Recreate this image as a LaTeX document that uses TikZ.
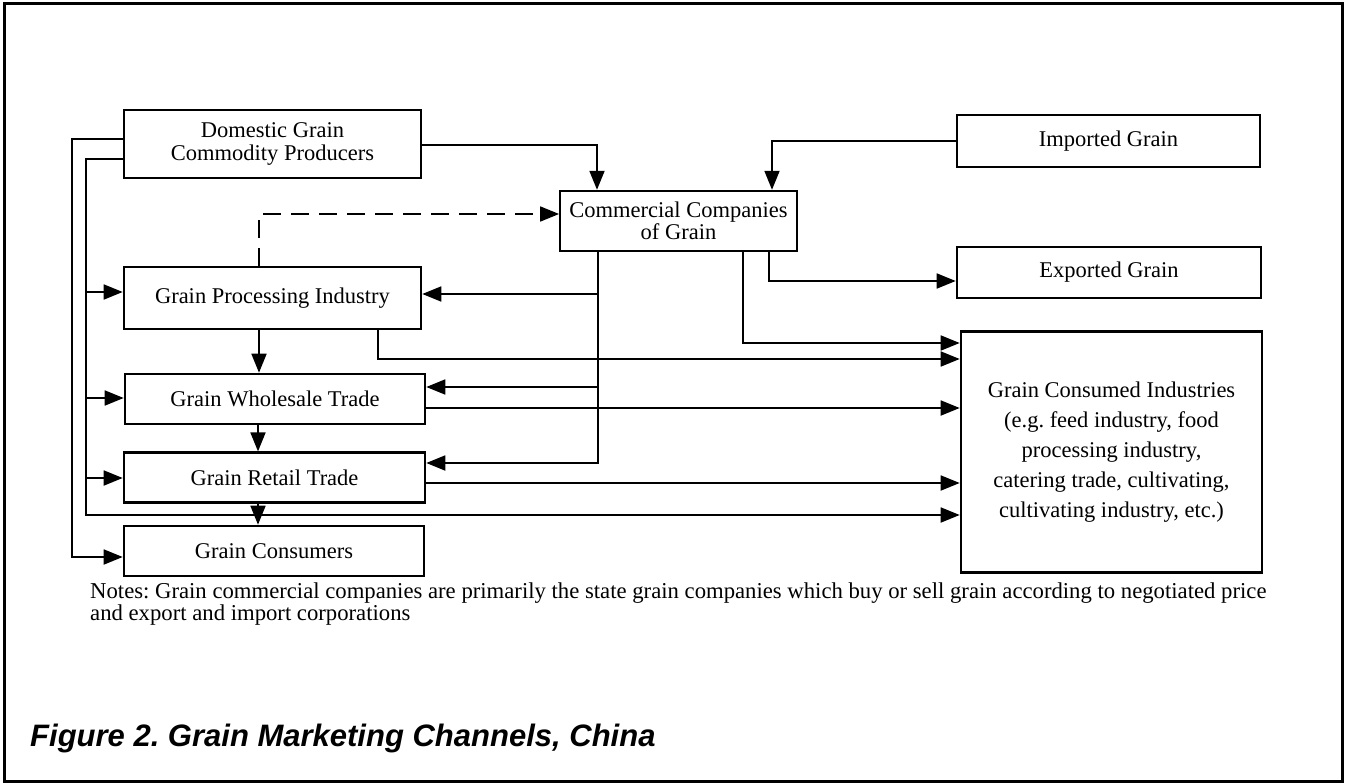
\documentclass[tikz,border=0pt]{standalone}
\usepackage{fontspec}
\setmainfont{Liberation Serif}
\newfontfamily\titlefont{Liberation Sans}
\usetikzlibrary{arrows.meta}
\frenchspacing
\begin{document}
\begin{tikzpicture}[x=1pt,y=-1pt,
  box/.style={draw, line width=2.6pt, inner sep=0pt, align=center,
    font=\fontsize{22.5}{22.7}\selectfont},
  thinbox/.style={box, line width=1.8pt},
  conn/.style={line width=1.8pt, -{Triangle[length=19pt,width=15pt]}},
  plain/.style={line width=1.8pt}
]
\useasboundingbox (0,0) rectangle (1345,784);
\draw[line width=3pt] (4,4) rectangle (1342,781);

% nodes
\node[box, minimum width=297pt, minimum height=68pt] (dom) at (272.5,144) {Domestic Grain\\Commodity Producers};
\node[box, minimum width=303pt, minimum height=52pt] (imp) at (1108.5,141) {Imported Grain};
\node[thinbox, minimum width=237pt, minimum height=60pt] (comm) at (678.5,220.7) {Commercial Companies\\of Grain};
\node[box, minimum width=304pt, minimum height=51pt] (exp) at (1109,272.5) {Exported Grain};
\node[box, minimum width=297pt, minimum height=62pt] (proc) at (272.5,298) {Grain Processing Industry};
\node[box, minimum width=300pt, minimum height=50pt] (whole) at (275,399) {Grain Wholesale Trade};
\node[box, minimum width=301pt, minimum height=50pt] (retail) at (274.5,477.7) {Grain Retail Trade};
\node[box, minimum width=300pt, minimum height=50pt] (cons) at (274,551) {Grain Consumers};
\node[box, minimum width=301pt, minimum height=241pt, font=\fontsize{22.5}{30}\selectfont] (ind) at (1111.5,452)
  {Grain Consumed Industries\\(e.g. feed industry, food\\processing industry,\\catering trade, cultivating,\\cultivating industry, etc.)};

% junction coordinates
\coordinate (jp) at (598,294);
\coordinate (jw) at (598,387);
\coordinate (jr) at (598,463);
\coordinate (ji) at (86,515);
\coordinate (jl1) at (86,292);
\coordinate (jl2) at (86,398);
\coordinate (jl3) at (86,478);
\coordinate (jo) at (72,557);

% top connectors
\draw[conn] (dom.east |- 0,145) -| (comm.north -| 597,0);
\draw[conn] (imp.west) -| (comm.north -| 772,0);
\draw[conn] (comm.south -| 769,0) |- (exp.west |- 0,281);
\draw[conn] (comm.south -| 743,0) |- (ind.west |- 0,343);
\draw[conn, dashed, dash pattern=on 18pt off 10pt] (proc.north -| 259,0) |- (comm.west |- 0,214);

% commercial companies to processing / wholesale / retail
\draw[conn] (comm.south -| jr) -- (jr) -- (retail.east |- jr);
\draw[conn] (jp) -- (proc.east |- jp);
\draw[conn] (jw) -- (whole.east |- jw);

% to consumed industries
\draw[conn] (proc.south -| 378,0) |- (ind.west |- 0,359);
\draw[conn] (whole.east |- 0,408) -- (ind.west |- 0,408);
\draw[conn] (retail.east |- 0,483) -- (ind.west |- 0,483);

% vertical chain
\draw[conn] (proc.south -| 259,0) -- (whole.north -| 259,0);
\draw[conn] (whole.south -| 258,0) -- (retail.north -| 258,0);
\draw[conn] (retail.south -| 258,0) -- (cons.north -| 258,0);

% left trunks
\draw[conn] (dom.west |- 0,159) -| (ji) -- (ind.west |- ji);
\draw[conn] (jl1) -- (proc.west |- jl1);
\draw[conn] (jl2) -- (whole.west |- jl2);
\draw[conn] (jl3) -- (retail.west |- jl3);
\draw[conn] (dom.west |- 0,139) -| (jo) -- (cons.west |- jo);

% notes
\node[anchor=base west, align=left, inner sep=0pt, font=\fontsize{22.7}{21.5}\selectfont] (notes) at (90,620)
  {Notes: Grain commercial companies are primarily the state grain companies which buy or sell grain according to negotiated price\\and export and import corporations};

% title
\node[anchor=base west, inner sep=0pt, font=\titlefont\bfseries\itshape\fontsize{31}{34}\selectfont] (title) at (30,746)
  {Figure 2. Grain Marketing Channels, China};
\end{tikzpicture}
\end{document}
